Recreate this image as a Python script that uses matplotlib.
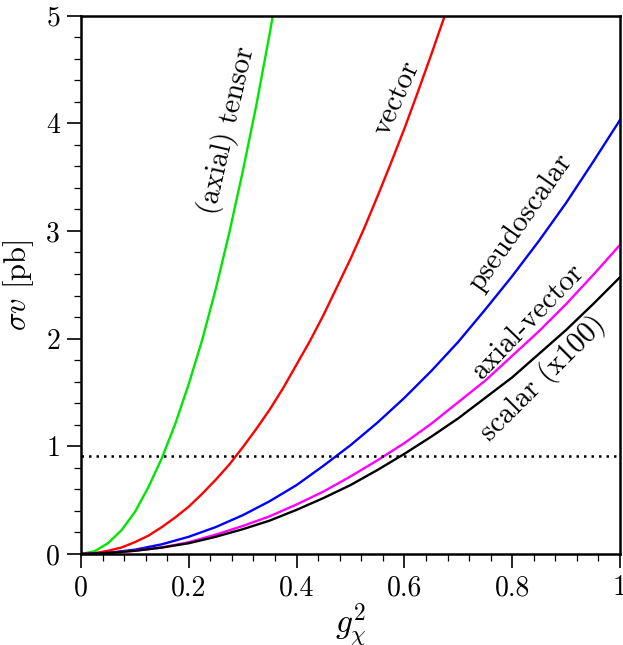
import matplotlib
matplotlib.use('Agg')
import matplotlib.pyplot as plt
from matplotlib.ticker import MultipleLocator

plt.rcParams['font.family'] = 'serif'
plt.rcParams['font.serif'] = ['cmr10', 'DejaVu Serif']
plt.rcParams['mathtext.fontset'] = 'cm'
plt.rcParams['axes.unicode_minus'] = False
plt.rcParams['axes.formatter.use_mathtext'] = True

# values
x_tensor = [0, 0.025, 0.05, 0.075, 0.10, 0.125, 0.15, 0.175, 0.20, 0.225,
            0.25, 0.275, 0.30, 0.325, 0.35, 0.356]
y_tensor = [0, 0.025, 0.10, 0.22, 0.39, 0.62, 0.89, 1.21, 1.58, 1.99,
            2.46, 2.98, 3.55, 4.16, 4.83, 5.0]

x_vector = [0, 0.025, 0.05, 0.075, 0.10, 0.125, 0.15, 0.175, 0.20, 0.225,
            0.25, 0.275, 0.30, 0.325, 0.35, 0.375, 0.40, 0.425, 0.45, 0.475,
            0.50, 0.525, 0.55, 0.575, 0.60, 0.625, 0.65, 0.675]
y_vector = [0, 0.007, 0.03, 0.06, 0.11, 0.17, 0.25, 0.34, 0.44, 0.56,
            0.69, 0.83, 0.99, 1.16, 1.34, 1.54, 1.76, 1.98, 2.22, 2.48,
            2.74, 3.02, 3.32, 3.63, 3.95, 4.29, 4.64, 5.0]

x_grid = [0, 0.05, 0.10, 0.15, 0.20, 0.25, 0.30, 0.35, 0.40, 0.45, 0.50,
          0.55, 0.60, 0.65, 0.70, 0.75, 0.80, 0.85, 0.90, 0.95, 1.0]
y_pseudo = [0, 0.01, 0.04, 0.09, 0.16, 0.25, 0.36, 0.49, 0.64, 0.82, 1.01,
            1.22, 1.45, 1.70, 1.97, 2.27, 2.58, 2.91, 3.26, 3.64, 4.03]
y_axialvec = [0, 0.01, 0.03, 0.06, 0.11, 0.18, 0.26, 0.35, 0.46, 0.58, 0.72,
              0.87, 1.03, 1.21, 1.41, 1.61, 1.84, 2.07, 2.32, 2.59, 2.87]
y_scalar = [0, 0.01, 0.03, 0.06, 0.10, 0.16, 0.23, 0.31, 0.41, 0.52, 0.64,
            0.78, 0.93, 1.09, 1.26, 1.45, 1.64, 1.86, 2.08, 2.32, 2.57]

relic_level = 0.91

fig = plt.figure(figsize=(6.23, 6.45), dpi=100)
ax = fig.add_axes([81 / 623, 91 / 645, 539 / 623, 538.5 / 645])

lw = 1.7
ax.plot(x_tensor, y_tensor, color='#00e600', lw=lw)
ax.plot(x_vector, y_vector, color='#ff0000', lw=lw)
ax.plot(x_grid, y_pseudo, color='#0000ff', lw=lw)
ax.plot(x_grid, y_axialvec, color='#ff00ff', lw=lw)
ax.plot(x_grid, y_scalar, color='black', lw=lw)
ax.axhline(relic_level, color='black', lw=1.8, ls=(0, (1, 2)))

ax.set_xlim(0, 1)
ax.set_ylim(0, 5)
ax.xaxis.set_minor_locator(MultipleLocator(0.04))
ax.yaxis.set_minor_locator(MultipleLocator(0.2))
ax.set_xticks([0, 0.2, 0.4, 0.6, 0.8, 1.0])
ax.set_xticklabels(['0', '0.2', '0.4', '0.6', '0.8', '1'])
ax.set_yticks([0, 1, 2, 3, 4, 5])
ax.set_yticklabels(['0', '1', '2', '3', '4', '5'])

ax.tick_params(which='major', direction='out', length=10, width=1.2, labelsize=20, pad=5)
ax.tick_params(which='minor', direction='out', length=5, width=0.9)
ax.tick_params(top=False, right=False)
for sp in ax.spines.values():
    sp.set_linewidth(1.8)

ax.set_xlabel(r'$g_\chi^2$', fontsize=24, labelpad=0)
ax.set_ylabel(r'$\sigma v$ [pb]', fontsize=22, labelpad=7)

fs = 21
def label(px, py, text, rot):
    fig.text(px / 623, 1 - py / 645, text, fontsize=fs, rotation=rot,
             ha='center', va='center', rotation_mode='anchor')

label(227, 130, '(axial) tensor', 77)
label(397, 98, 'vector', 66)
label(521, 223, 'pseudoscalar', 55)
label(528, 321, 'axial-vector', 46)
label(543, 378, 'scalar (x100)', 45)

fig.savefig('out.png', dpi=100)
